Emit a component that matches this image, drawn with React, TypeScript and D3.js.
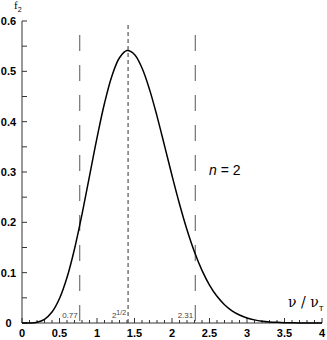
import React from "react";
import * as d3 from "d3";

const xValues = [0, 0.1, 0.2, 0.3, 0.4, 0.5, 0.6, 0.7, 0.8, 0.9, 1.0, 1.1, 1.2, 1.3, 1.4, 1.5, 1.6, 1.7, 1.8, 1.9, 2.0, 2.1, 2.2, 2.3, 2.4, 2.5, 2.6, 2.7, 2.8, 2.9, 3.0, 3.1, 3.2, 3.3, 3.4, 3.5, 3.6, 3.7, 3.8, 3.9, 4.0];
const fValues = [0, 0.0001, 0.0015, 0.0074, 0.0218, 0.0487, 0.0904, 0.1471, 0.216, 0.2919, 0.3679, 0.4366, 0.4913, 0.527, 0.5413, 0.5336, 0.5066, 0.4642, 0.4111, 0.3525, 0.2931, 0.2365, 0.1853, 0.1411, 0.1045, 0.0754, 0.053, 0.0363, 0.0242, 0.0158, 0.01, 0.0062, 0.0037, 0.0022, 0.0013, 0.0007, 0.0004, 0.0002, 0.0001, 0.00005, 0];
const xTickLabels = ["0", "0.5", "1", "1.5", "2", "2.5", "3", "3.5", "4"];
const yTickLabels = ["0", "0.1", "0.2", "0.3", "0.4", "0.5", "0.6"];
const sideLines = [0.77, 2.31];
const sideLabels = ["0.77", "2.31"];
const peakX = 1.4142;

export default function App() {
  const x = d3.scaleLinear().domain([0, 4]).range([22, 322]);
  const y = d3.scaleLinear().domain([0, 0.6]).range([323, 21]);
  const pts = xValues.map((v, i) => [v, fValues[i]] as [number, number]);
  const line = d3
    .line<[number, number]>()
    .x((d) => x(d[0]))
    .y((d) => y(d[1]))
    .curve(d3.curveCatmullRom.alpha(0.5));
  const xMinor = d3.range(0, 41).map((i) => i / 10);
  const yMinor = d3.range(0, 13).map((i) => i * 0.05);
  const font = "'Liberation Sans', Arial, sans-serif";
  return (
    <svg width={327} height={340} style={{ position: "absolute", left: 0, top: 0 }}>
      <rect width={327} height={340} fill="#fff" />
      {/* axes */}
      <line x1={x(0)} x2={x(0)} y1={y(0.6)} y2={y(0)} stroke="#333" strokeWidth={1} />
      <line x1={x(0)} x2={x(4)} y1={y(0)} y2={y(0)} stroke="#333" strokeWidth={1} />
      {yMinor.map((v, i) => (
        <line key={"yt" + i} x1={x(0)} x2={x(0) + 5} y1={y(v)} y2={y(v)} stroke="#333" />
      ))}
      {xMinor.map((v, i) => (
        <line key={"xt" + i} x1={x(v)} x2={x(v)} y1={y(0)} y2={y(0) - (i % 5 === 0 ? 5 : 3)} stroke="#333" />
      ))}
      {yTickLabels.map((t) => (
        <text key={"yl" + t} x={8.5} y={y(+t) + 4} textAnchor="middle" fontFamily={font} fontWeight="bold" fontSize={11} fill="#000">
          {t}
        </text>
      ))}
      {xTickLabels.map((t) => (
        <text key={"xl" + t} x={x(+t)} y={337} textAnchor="middle" fontFamily={font} fontWeight="bold" fontSize={11} fill="#000">
          {t}
        </text>
      ))}
      {/* dashed lines */}
      {sideLines.map((v) => (
        <line key={"sl" + v} x1={x(v)} x2={x(v)} y1={35} y2={y(0)} stroke="#555" strokeWidth={1} strokeDasharray="16,14" />
      ))}
      <line x1={x(peakX)} x2={x(peakX)} y1={25} y2={y(0)} stroke="#333" strokeWidth={1} strokeDasharray="4,3" />
      {sideLines.map((v, i) => (
        <text key={"sla" + v} x={x(v) - 2} y={318} textAnchor="end" fontFamily={font} fontSize={8} fill="#444">
          {sideLabels[i]}
        </text>
      ))}
      <text x={x(peakX) - 2} y={318} textAnchor="end" fontFamily={font} fontSize={8} fill="#444">
        2<tspan dy={-3} fontSize={7}>1/2</tspan>
      </text>
      {/* curve */}
      <path d={line(pts) || ""} fill="none" stroke="#000" strokeWidth={1.5} />
      {/* annotations */}
      <text x={209} y={175} fontFamily={font} fontSize={14} fill="#000">
        <tspan fontStyle="italic">n</tspan> = 2
      </text>
      <text x={288} y={307} fontFamily={"'DejaVu Serif', serif"} fontSize={14} fill="#000">
        ν / ν<tspan dy={4} fontSize={8} fontFamily={font}>T</tspan>
      </text>
      <text x={14} y={9} fontFamily={"'Liberation Serif', serif"} fontSize={11} fill="#000">
        f<tspan dy={3} fontSize={7} fontFamily={font}>2</tspan>
      </text>
    </svg>
  );
}
